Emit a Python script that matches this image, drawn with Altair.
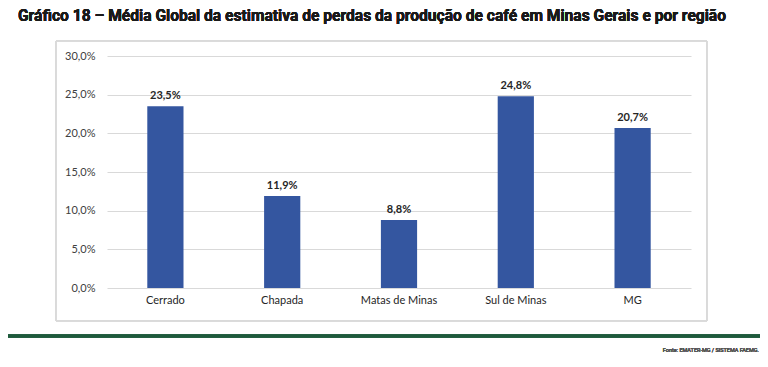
import altair as alt
import pandas as pd

regions = ["Cerrado", "Chapada", "Matas de Minas", "Sul de Minas", "MG"]
losses = [0.235, 0.119, 0.088, 0.248, 0.207]
y_ticks = [0.0, 0.05, 0.10, 0.15, 0.20, 0.25, 0.30]

title_text = "Gráfico 18 – Média Global da estimativa de perdas da produção de café em Minas Gerais e por região"
source_text = "Fonte: EMATER-MG / SISTEMA FAEMG."

df = pd.DataFrame({"regiao": regions, "perda": losses})

W, H = 584, 232
LABEL_FONT = "Lato"

x_enc = alt.X(
    "regiao:N",
    sort=regions,
    title=None,
    scale=alt.Scale(paddingInner=0.69, paddingOuter=0.345),
    axis=alt.Axis(
        labelAngle=0, ticks=False, domain=False, labelPadding=6,
        labelFont=LABEL_FONT, labelFontSize=11, labelColor="#262626",
    ),
)
y_enc = alt.Y(
    "perda:Q",
    title=None,
    scale=alt.Scale(domain=[0, 0.30], nice=False),
    axis=alt.Axis(
        values=y_ticks, ticks=False, domain=False, labelPadding=12,
        labelOverlap=False,
        labelExpr="replace(format(datum.value, '.1%'), '.', ',')",
        labelFont=LABEL_FONT, labelFontSize=11, labelColor="#404040",
        gridColor="#d9d9d9", gridWidth=1,
    ),
)

base = alt.Chart(df)

bars = base.mark_bar(color="#3456a0").encode(x=x_enc, y=y_enc)

labels = base.transform_calculate(
    lbl="replace(format(datum.perda, '.1%'), '.', ',')"
).mark_text(
    font=LABEL_FONT, fontSize=11, fontWeight="bold", color="#262626",
    baseline="bottom", dy=-5,
).encode(x=x_enc, y=y_enc, text="lbl:N")

frame = base.mark_rect(fill=None, stroke="#d9d9d9", strokeWidth=1).encode(
    x=alt.value(-51), x2=alt.value(600), y=alt.value(-15), y2=alt.value(265)
)

green = base.mark_rule(color="#1e5a3c", strokeWidth=3).encode(
    x=alt.value(-99), x2=alt.value(653), y=alt.value(280)
)

title = base.mark_text(
    text=title_text, font="Roboto",
    fontSize=15.6, fontWeight="bold", color="#1a1a1a", align="center", baseline="middle",
).encode(x=alt.value(265), y=alt.value(-40))

source = base.mark_text(
    text=source_text, font="Roboto", fontSize=5.5,
    color="#555555", align="right", baseline="middle",
).encode(x=alt.value(652), y=alt.value(294))

chart = alt.layer(frame, bars, labels, green, title, source).properties(
    width=W, height=H,
    autosize=alt.AutoSizeParams(type="none"),
    padding={"left": 99, "top": 48, "right": 69, "bottom": 71},
).configure_view(stroke=None)

chart.save("out.html", embed_options={"renderer": "svg", "actions": False})
